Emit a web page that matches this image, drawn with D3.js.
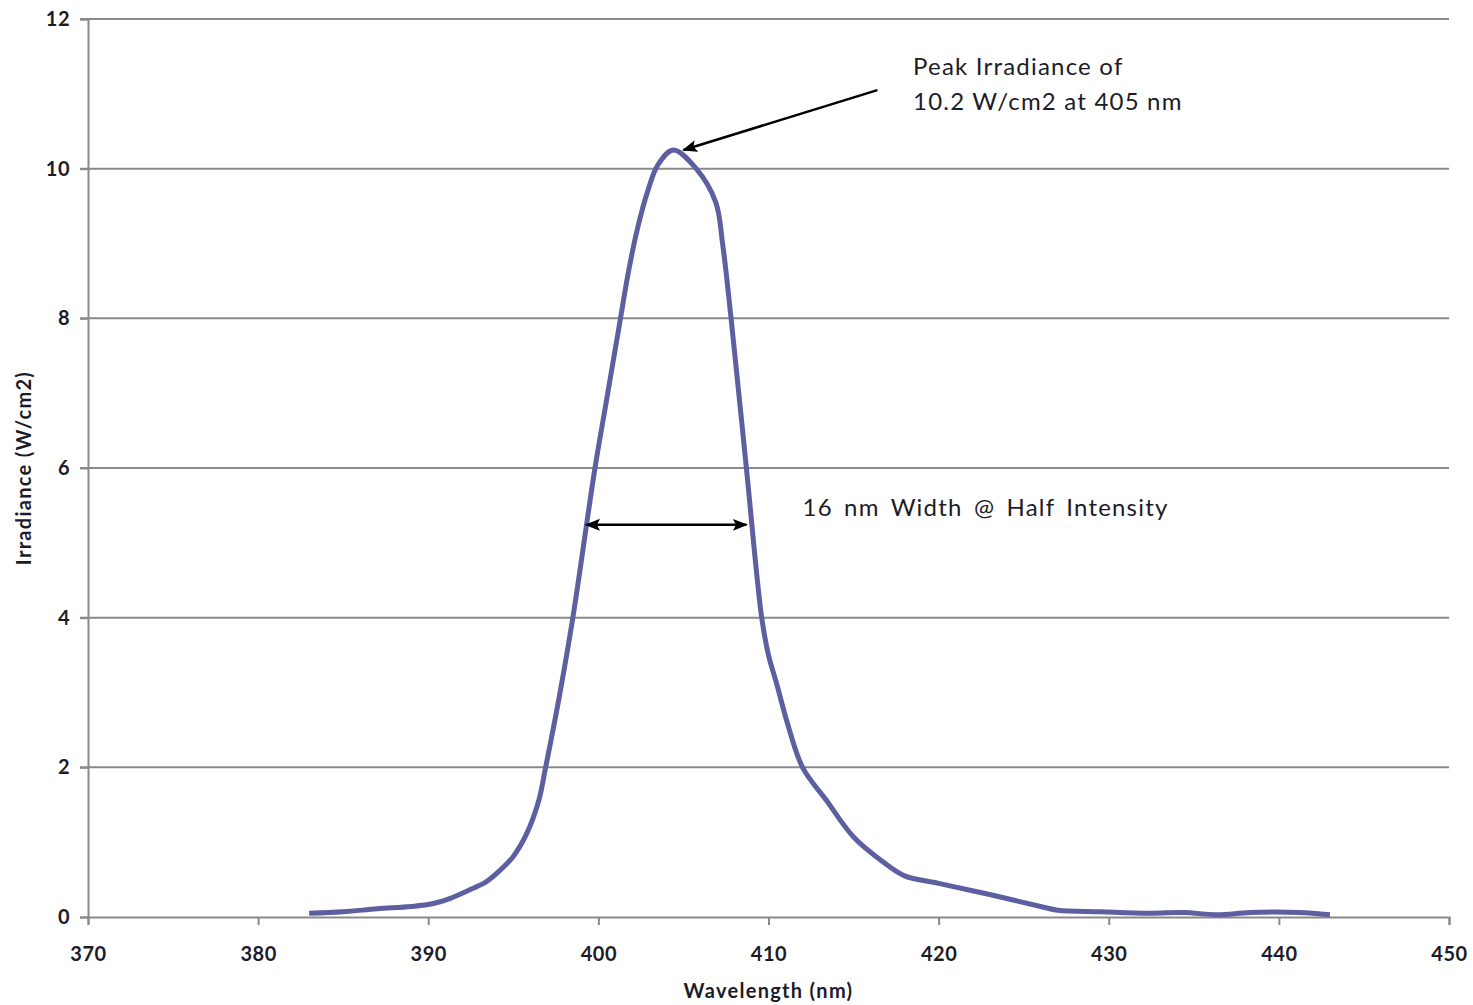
<!DOCTYPE html>
<html>
<head>
<meta charset="utf-8">
<script src="https://cdn.jsdelivr.net/npm/d3@7"></script>
<style>
  body { margin: 0; background: #fff; }
  svg text { font-family: Lato, "Open Sans", sans-serif; fill: #1c1c28; }
  .tick-label { font-size: 20px; font-weight: bold; letter-spacing: 0.5px; }
  .axis-title { font-size: 20px; font-weight: bold; letter-spacing: 1.3px; }
  .note { font-size: 24px; letter-spacing: 1.2px; }
</style>
</head>
<body>
<svg id="chart" width="1473" height="1005"></svg>
<script>
// spectrum
const wavelength = [383, 385, 387, 389, 390.3, 391.3, 392.5, 393.4, 394.2, 395, 395.8, 396.5, 396.9,
  397.7, 398.5, 399.8, 400.4, 401.3, 401.75, 402.3, 402.9, 403.5, 404.4, 405.75, 406.9, 407.3, 407.8,
  408.7, 409.6, 410, 410.5, 411.1, 412, 413.4, 415, 416.6, 418, 420, 423, 426, 427, 429.5,
  432.4, 434.4, 436.4, 438.3, 441.2, 443];
const irradiance = [0.05, 0.07, 0.11, 0.14, 0.18, 0.25, 0.37, 0.47, 0.62, 0.81, 1.12, 1.56, 2.0,
  2.94, 4.0, 6.0, 6.8, 8.0, 8.6, 9.2, 9.7, 10.05, 10.25, 10.0, 9.55, 9.0, 8.0,
  6.0, 4.0, 3.5, 3.1, 2.6, 2.0, 1.56, 1.07, 0.76, 0.55, 0.45, 0.3, 0.14, 0.09, 0.07,
  0.05, 0.06, 0.03, 0.06, 0.06, 0.03];

const xTicks = [370, 380, 390, 400, 410, 420, 430, 440, 450];
const yTicks = [0, 2, 4, 6, 8, 10, 12];

// annotations (data units)
const peakArrow = [[416.4, 11.05], [405.0, 10.25]];
const halfArrow = [[399.3, 5.24], [408.7, 5.24]];
const peakText = ['Peak Irradiance of', '10.2 W/cm2 at 405 nm'];
const widthText = '16 nm Width @ Half Intensity';

const svg = d3.select('#chart');
const m = { left: 88, right: 24, top: 19, bottom: 88 };
const W = 1473, H = 1005;

const x = d3.scaleLinear().domain([370, 450]).range([m.left, W - m.right]);
const y = d3.scaleLinear().domain([0, 12]).range([H - m.bottom, m.top]);

const gridColor = '#8a8a8a';

// gridlines
svg.append('g').selectAll('line').data(yTicks.filter(d => d > 0)).join('line')
  .attr('x1', m.left - 8).attr('x2', x(450))
  .attr('y1', d => y(d)).attr('y2', d => y(d))
  .attr('stroke', gridColor).attr('stroke-width', 2);

// axes
const xAxis = svg.append('g').attr('transform', `translate(0,${y(0)})`)
  .call(d3.axisBottom(x).tickValues(xTicks).tickSize(8).tickPadding(22));
const yAxis = svg.append('g').attr('transform', `translate(${m.left},0)`)
  .call(d3.axisLeft(y).tickValues(yTicks).tickSize(8).tickPadding(8));

[xAxis, yAxis].forEach(a => {
  a.attr('font-family', null).attr('font-size', null);
  a.select('.domain').attr('stroke', gridColor).attr('stroke-width', 2);
  a.selectAll('.tick line').attr('stroke', gridColor).attr('stroke-width', 2);
  a.selectAll('.tick text').attr('class', 'tick-label').attr('fill', null);
});
yAxis.selectAll('.tick text').attr('dx', '-0.1em');

// axis titles
svg.append('text').attr('class', 'axis-title')
  .attr('x', (x(370) + x(450)) / 2).attr('y', 998)
  .attr('text-anchor', 'middle').text('Wavelength (nm)');
svg.append('text').attr('class', 'axis-title')
  .attr('transform', `translate(31,${y(6)}) rotate(-90)`)
  .attr('text-anchor', 'middle').text('Irradiance (W/cm2)');

// spectrum line
const pts = wavelength.map((w, i) => [w, irradiance[i]]);
svg.append('path').datum(pts)
  .attr('fill', 'none').attr('stroke', '#5d5fa0').attr('stroke-width', 5)
  .attr('stroke-linejoin', 'round')
  .attr('d', d3.line().x(d => x(d[0])).y(d => y(d[1])).curve(d3.curveCatmullRom.alpha(0.5)));

// arrowheads
const defs = svg.append('defs');
defs.append('marker').attr('id', 'ah').attr('viewBox', '0 0 10 10')
  .attr('refX', 9).attr('refY', 5).attr('markerWidth', 6).attr('markerHeight', 6)
  .attr('orient', 'auto-start-reverse')
  .append('path').attr('d', 'M0,1 L10,5 L0,9 L2,5 Z').attr('fill', '#000');

svg.append('line')
  .attr('x1', x(peakArrow[0][0])).attr('y1', y(peakArrow[0][1]))
  .attr('x2', x(peakArrow[1][0])).attr('y2', y(peakArrow[1][1]))
  .attr('stroke', '#000').attr('stroke-width', 2.5).attr('marker-end', 'url(#ah)');

svg.append('line')
  .attr('x1', x(halfArrow[0][0])).attr('y1', y(halfArrow[0][1]))
  .attr('x2', x(halfArrow[1][0])).attr('y2', y(halfArrow[1][1]))
  .attr('stroke', '#000').attr('stroke-width', 2.5)
  .attr('marker-start', 'url(#ah)').attr('marker-end', 'url(#ah)');

// annotation text
svg.append('text').attr('class', 'note')
  .attr('x', x(418.5)).attr('y', 75).text(peakText[0]);
svg.append('text').attr('class', 'note')
  .attr('x', x(418.5)).attr('y', 110).text(peakText[1]);
svg.append('text').attr('class', 'note').style('word-spacing', '4px')
  .attr('x', x(412.0)).attr('y', 516).text(widthText);
</script>
</body>
</html>
